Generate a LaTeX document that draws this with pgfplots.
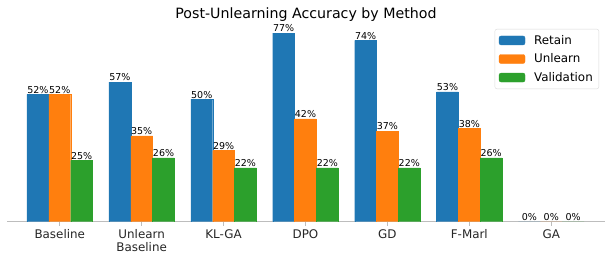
\documentclass[border=0pt]{standalone}
\usepackage{fontspec}
\setmainfont{DejaVu Sans}
\usepackage{pgfplots}
\pgfplotsset{compat=1.18}
\definecolor{cRet}{HTML}{1F77B4}
\definecolor{cUnl}{HTML}{FF7F0E}
\definecolor{cVal}{HTML}{2CA02C}
\definecolor{spine}{HTML}{BDBDBD}
\begin{document}
\begin{tikzpicture}
\path[use as bounding box] (-7pt,-39.3pt) rectangle (605pt,221.7pt);
\begin{axis}[
  scale only axis,
  width=598pt, height=198.1pt,
  xmin=-0.644, xmax=6.656,
  ymin=0, ymax=80.85,
  ybar=0pt,
  bar width=0.2667,
  axis x line*=bottom,
  axis y line=none,
  x axis line style={draw=spine, line width=1pt},
  xtick={0,1,2,3,4,5,6},
  xticklabels={Baseline,{Unlearn\\Baseline},KL-GA,DPO,GD,F-Marl,GA},
  xticklabel style={align=center, font=\fontsize{11.9}{13.5}\selectfont, text=black!85},
  major tick length=4pt,
  tick align=outside,
  xtick style={draw=spine, line width=0.8pt},
  title={Post-Unlearning Accuracy by Method},
  title style={at={(0.5,1)}, anchor=base, yshift=-0.7pt, font=\fontsize{14.2}{17}\selectfont},
  nodes near coords={\pgfmathprintnumber[fixed,precision=0,assume math mode=true]{\pgfplotspointmeta}\%},
  point meta=y,
  every node near coord/.append style={font=\fontsize{9.5}{11}\selectfont, inner sep=0.8pt, anchor=south, text=black},
  legend style={at={(1,1)}, anchor=north east, xshift=-6pt, yshift=-5.4pt,
    draw=black!15, rounded corners=2pt, font=\fontsize{11.9}{13}\selectfont,
    row sep=4pt, inner xsep=4pt, inner ysep=4pt, cells={anchor=west}},
  legend image code/.code={\fill[#1] (0pt,-4.5pt) rectangle (26pt,4.5pt); \path[draw=none,fill=none] (0pt,0pt) rectangle (33pt,0pt);},
]
\addplot[fill=cRet, draw=cRet, line width=0.3pt] coordinates {(0,52) (1,57) (2,50) (3,77) (4,74) (5,53) (6,0)};
\addplot[fill=cUnl, draw=cUnl, line width=0.3pt] coordinates {(0,52) (1,35) (2,29) (3,42) (4,37) (5,38) (6,0)};
\addplot[fill=cVal, draw=cVal, line width=0.3pt] coordinates {(0,25) (1,26) (2,22) (3,22) (4,22) (5,26) (6,0)};
\legend{Retain,Unlearn,Validation}
\end{axis}
\end{tikzpicture}
\end{document}
